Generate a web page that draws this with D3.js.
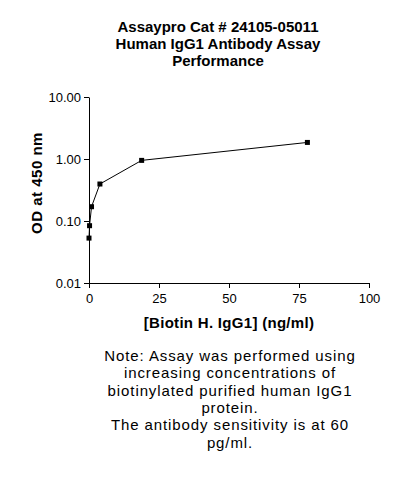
<!DOCTYPE html>
<html>
<head>
<meta charset="utf-8">
<script src="https://cdn.jsdelivr.net/npm/d3@7"></script>
<style>
  body { margin: 0; background: #fff; }
  svg { display: block; font-family: Arial, "Liberation Sans", sans-serif; }
</style>
</head>
<body>
<div id="viz"></div>
<script>
var concentrations = [0, 0.2, 0.9, 3.9, 18.8, 78];
var odValues = [0.053, 0.084, 0.17, 0.395, 0.95, 1.85];
var xTicks = [0, 25, 50, 75, 100];
var yTicks = [0.01, 0.1, 1, 10];
var titleLines = ["Assaypro Cat # 24105-05011", "Human IgG1 Antibody Assay", "Performance"];
var noteLines = [
  "Note: Assay was performed using",
  "increasing concentrations of",
  "biotinylated purified human IgG1",
  "protein.",
  "The antibody sensitivity is at 60",
  "pg/ml."
];

var width = 419,
    height = 478;

var svg = d3.select("#viz").append("svg")
    .attr("width", width)
    .attr("height", height);

var x = d3.scaleLinear().domain([0, 100]).range([89, 369]);
var y = d3.scaleLog().domain([0.01, 10]).range([283, 97]);

// title
svg.append("g").selectAll("text")
    .data(titleLines)
  .enter().append("text")
    .attr("x", 218)
    .attr("y", function(d, i) { return 32 + i * 17; })
    .attr("text-anchor", "middle")
    .style("font-size", "15px")
    .style("font-weight", "bold")
    .text(function(d) { return d; });

// axes
var xAxis = svg.append("g")
    .attr("transform", "translate(0," + y(0.01) + ")")
    .call(d3.axisBottom(x).tickValues(xTicks).tickSize(5).tickSizeOuter(0));

var yAxis = svg.append("g")
    .attr("transform", "translate(" + x(0) + ",0)")
    .call(d3.axisLeft(y).tickValues(yTicks).tickSize(5).tickSizeOuter(0)
      .tickFormat(d3.format(".2f")));

[xAxis, yAxis].forEach(function(a) {
  a.select(".domain").attr("stroke", "#000");
  a.selectAll(".tick line").attr("stroke", "#000");
  a.selectAll(".tick text")
      .attr("fill", "#000")
      .style("font-size", "13px")
      .style("font-family", "Arial, 'Liberation Sans', sans-serif");
});
xAxis.selectAll(".tick text").attr("dy", "0.9em");
yAxis.selectAll(".tick text").attr("x", -8);

// axis titles
svg.append("text")
    .attr("x", 229)
    .attr("y", 328)
    .attr("text-anchor", "middle")
    .style("font-size", "15px")
    .style("font-weight", "bold")
    .style("letter-spacing", "0.3px")
    .text("[Biotin H. IgG1] (ng/ml)");

svg.append("text")
    .attr("transform", "translate(42,183) rotate(-90)")
    .attr("text-anchor", "middle")
    .style("font-size", "15px")
    .style("font-weight", "bold")
    .style("letter-spacing", "0.5px")
    .text("OD at 450 nm");

// data
var data = concentrations.map(function(c, i) { return {x: c, y: odValues[i]}; });

var line = d3.line()
    .x(function(d) { return x(d.x); })
    .y(function(d) { return y(d.y); });

svg.append("path")
    .datum(data)
    .attr("d", line)
    .attr("fill", "none")
    .attr("stroke", "#000")
    .attr("stroke-width", 1);

svg.selectAll("rect.pt")
    .data(data)
  .enter().append("rect")
    .attr("class", "pt")
    .attr("x", function(d) { return x(d.x) - 2.5; })
    .attr("y", function(d) { return y(d.y) - 2.5; })
    .attr("width", 5)
    .attr("height", 5)
    .attr("fill", "#000");

// note
svg.append("g").selectAll("text")
    .data(noteLines)
  .enter().append("text")
    .attr("x", 230)
    .attr("y", function(d, i) { return 361 + i * 17.3; })
    .attr("text-anchor", "middle")
    .style("font-size", "15px")
    .style("letter-spacing", "0.9px")
    .text(function(d) { return d; });
</script>
</body>
</html>
